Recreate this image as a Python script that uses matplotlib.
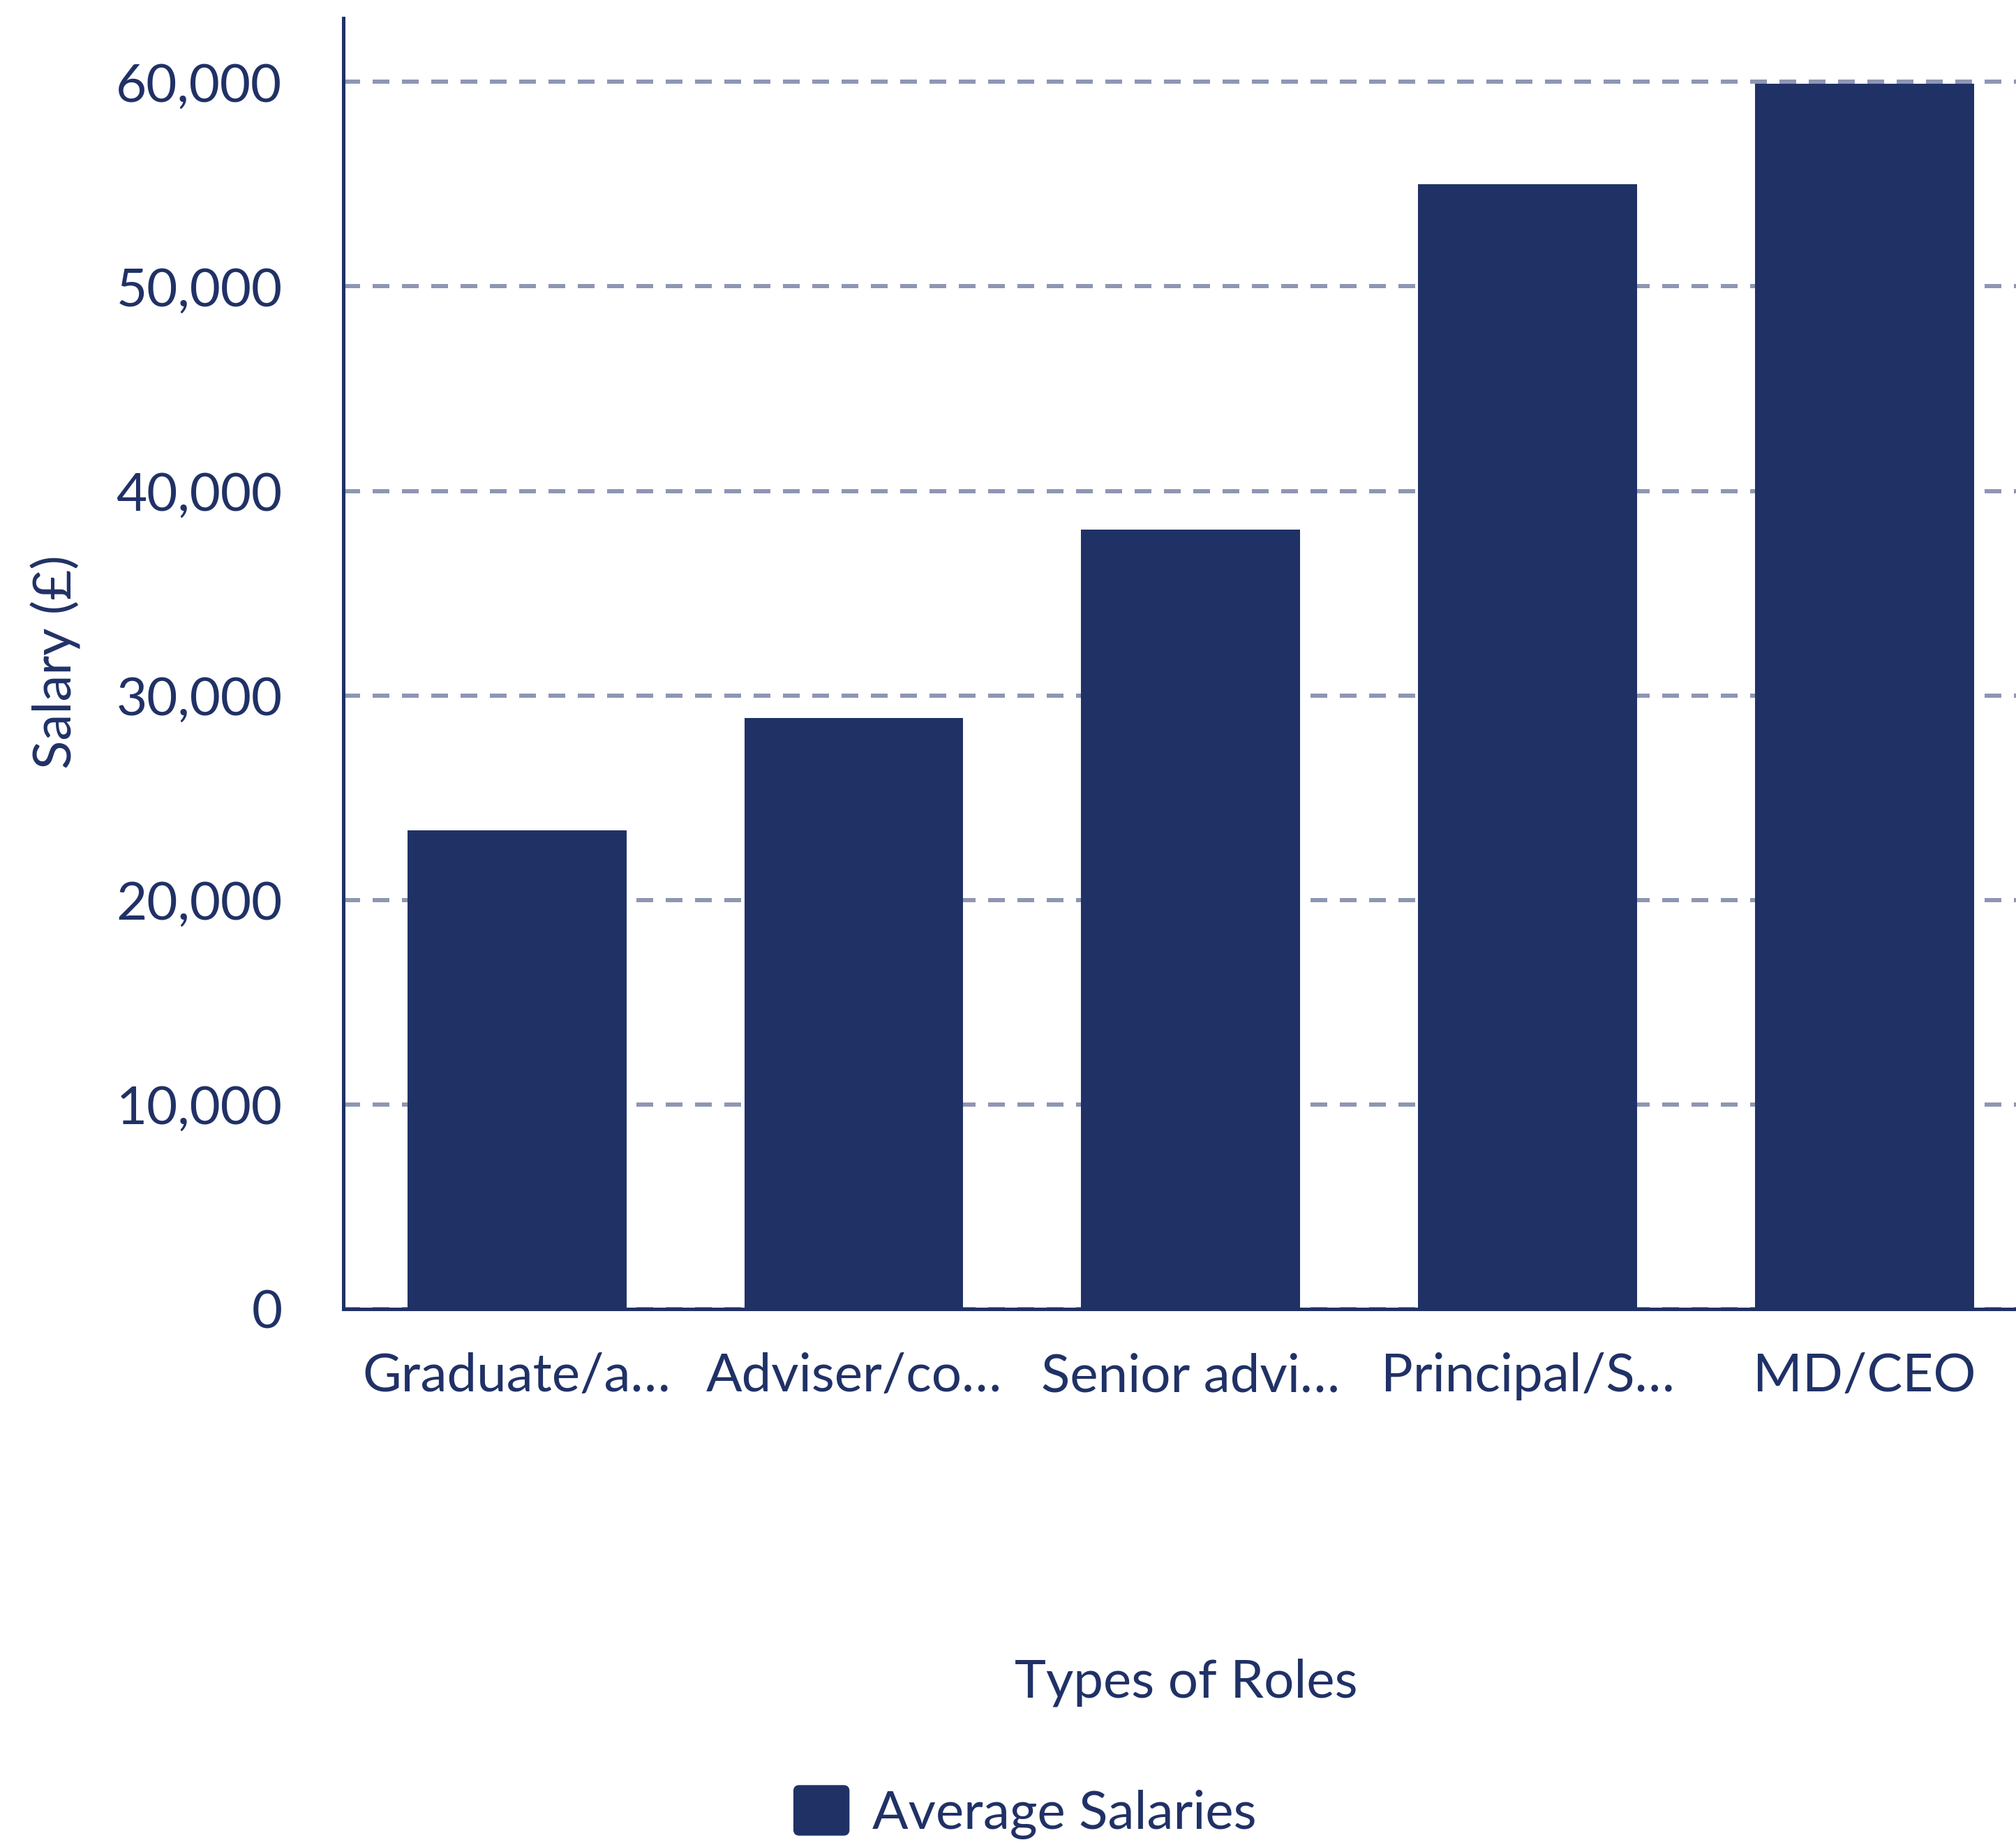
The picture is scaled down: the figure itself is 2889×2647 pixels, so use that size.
import matplotlib
matplotlib.use("Agg")
import matplotlib.pyplot as plt
from matplotlib.patches import Patch, FancyBboxPatch
from matplotlib.legend_handler import HandlerPatch

roles = ["Graduate/a…", "Adviser/co…", "Senior advi…", "Principal/S…", "MD/CEO"]
salaries = [23400, 28900, 38100, 55000, 59900]
yticks = [0, 10000, 20000, 30000, 40000, 50000, 60000]

NAVY = "#203166"
GRID = "#8e96b3"
FS = 18.3

plt.rcParams["font.family"] = ["Lato", "DejaVu Sans"]
plt.rcParams["font.size"] = FS

fig = plt.figure(figsize=(2889 / 300, 2647 / 300), dpi=300)
ax = fig.add_axes([0.1703, 0.2913, 1 - 0.1703, 0.990 - 0.2913])

x = range(len(roles))
ax.bar(x, salaries, width=0.65, color=NAVY, zorder=2)

ax.set_xlim(-0.515, 4.45)
ax.set_ylim(0, 63100)
ax.set_yticks(yticks)
ax.set_yticklabels([f"{v:,}" for v in yticks])
ax.set_xticks(list(x))
ax.set_xticklabels(roles)

ax.yaxis.grid(True, color=GRID, linewidth=1.44, linestyle=(0, (4, 3)), zorder=1)
ax.set_axisbelow(True)

for s in ["top", "right"]:
    ax.spines[s].set_visible(False)
for s in ["left", "bottom"]:
    ax.spines[s].set_color(NAVY)
    ax.spines[s].set_linewidth(1.2)

ax.tick_params(axis="both", length=0, colors=NAVY, labelsize=FS)
ax.tick_params(axis="y", pad=21)
ax.tick_params(axis="x", pad=15)

fig.text(80 / 2889, 1 - 949 / 2647, "Salary (£)", rotation=90, color=NAVY,
         fontsize=FS, ha="center", va="center")
fig.text(1700 / 2889, 1 - 2411 / 2647, "Types of Roles", color=NAVY,
         fontsize=FS, ha="center", va="center")


def rounded_square(legend, orig_handle, xdescent, ydescent, width, height, fontsize):
    return FancyBboxPatch((-xdescent, -ydescent), width, height,
                          boxstyle="round,pad=0,rounding_size=1.5")


handle = Patch(facecolor=NAVY, edgecolor=NAVY)
leg = fig.legend([handle], ["Average Salaries"], loc="center",
                 bbox_to_anchor=(1470 / 2889, 1 - 2598 / 2647), frameon=False,
                 handlelength=1.0, handleheight=1.0, handletextpad=0.46,
                 fontsize=FS, labelcolor=NAVY,
                 handler_map={Patch: HandlerPatch(patch_func=rounded_square)})

fig.savefig("out.png", dpi=300, facecolor="white")
